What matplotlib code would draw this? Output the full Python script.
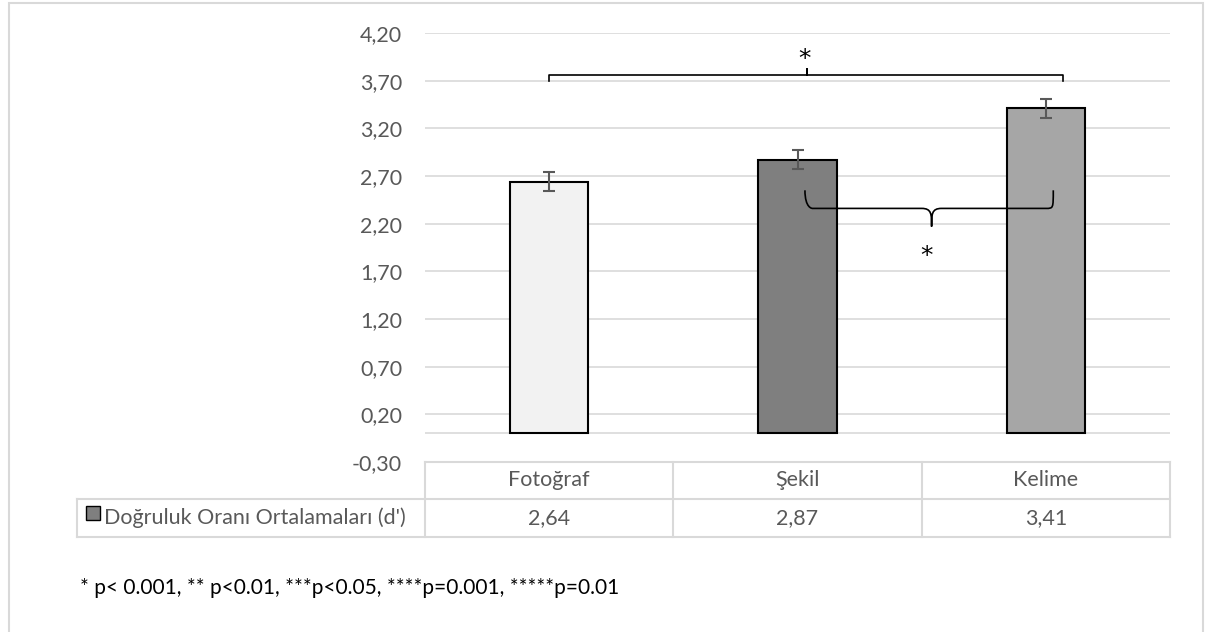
import matplotlib.pyplot as plt
import matplotlib.transforms as mtransforms
from matplotlib.patches import Rectangle
from matplotlib.path import Path
from matplotlib.patches import PathPatch
import numpy as np

categories = ['Fotoğraf', 'Şekil', 'Kelime']
values = [2.64, 2.87, 3.41]
errors = [0.10, 0.10, 0.10]
colors = ['#f2f2f2', '#7f7f7f', '#a6a6a6']
series_name = "Doğruluk Oranı Ortalamaları (d')"
yticks = [-0.30, 0.20, 0.70, 1.20, 1.70, 2.20, 2.70, 3.20, 3.70, 4.20]
footnote = '* p< 0.001, ** p<0.01, ***p<0.05, ****p=0.001, *****p=0.01'

plt.rcParams['font.family'] = ['Lato', 'DejaVu Sans']

W, H = 1208, 632
fig = plt.figure(figsize=(W / 100, H / 100), dpi=100)

def fx(px):
    return px / W

def fy(py):
    return 1 - py / H

FS = 15.5
TXT = '#595959'

# outer frame
fig.patches.append(Rectangle((fx(9), fy(640)), fx(1203) - fx(9), fy(3) - fy(640),
                             transform=fig.transFigure, fill=False,
                             edgecolor='#d9d9d9', lw=1.5))

ax = fig.add_axes([fx(425), fy(462), fx(1170) - fx(425), fy(33) - fy(462)])
ax.set_xlim(-0.5, 2.5)
ax.set_ylim(-0.30, 4.20)

x = np.arange(len(categories))
ax.bar(x, values, width=0.315, color=colors, edgecolor='black', lw=1.5, zorder=3)
ax.errorbar(x, values, yerr=errors, fmt='none', ecolor='#595959', elinewidth=1.5,
            capsize=4.5, capthick=1.5, zorder=4)

ax.set_yticks(yticks)
ax.set_yticklabels([f'{v:.2f}'.replace('.', ',') for v in yticks],
                   fontsize=FS, color=TXT)
ax.tick_params(axis='y', length=0, pad=16.5)
ax.set_xticks([])
for s in ax.spines.values():
    s.set_visible(False)
for v in yticks[1:]:
    ax.axhline(v, color='#d9d9d9', lw=1.2, zorder=1)
ax.axhline(0, color='#d9d9d9', lw=1.2, zorder=2)

# significance brackets
ax.plot([0, 0, 1.04, 1.04, 1.04, 2.07, 2.07],
        [3.70, 3.76, 3.76, 3.82, 3.76, 3.76, 3.70],
        color='black', lw=1.2, clip_on=False, zorder=5)
ax.text(1.03, 3.93, '*', ha='center', va='center', fontsize=18,
        family='DejaVu Sans')

verts = [(1.03, 2.55), (1.03, 2.36), (1.06, 2.36), (1.06, 2.36),
         (1.50, 2.36),
         (1.54, 2.36), (1.54, 2.30), (1.54, 2.17),
         (1.54, 2.30), (1.54, 2.36), (1.58, 2.36),
         (2.00, 2.36),
         (2.03, 2.36), (2.03, 2.36), (2.03, 2.55)]
codes = [Path.MOVETO, Path.CURVE4, Path.CURVE4, Path.CURVE4,
         Path.LINETO,
         Path.CURVE4, Path.CURVE4, Path.CURVE4,
         Path.CURVE4, Path.CURVE4, Path.CURVE4,
         Path.LINETO,
         Path.CURVE4, Path.CURVE4, Path.CURVE4]
ax.add_patch(PathPatch(Path(verts, codes), fill=False, edgecolor='black',
                       lw=1.2, zorder=5))
ax.text(1.52, 1.86, '*', ha='center', va='center', fontsize=18,
        family='DejaVu Sans')

# data table below the axis
tr = mtransforms.blended_transform_factory(ax.transData, fig.transFigure)
grid_c = '#d9d9d9'
row_top, row_mid, row_bot = fy(462), fy(499), fy(537)
fig.add_artist(plt.Line2D([-0.5, 2.5], [row_top, row_top], transform=tr, color=grid_c, lw=1.5))
fig.add_artist(plt.Line2D([fx(77), fx(1170)], [row_mid, row_mid], transform=fig.transFigure, color=grid_c, lw=1.5))
fig.add_artist(plt.Line2D([fx(77), fx(1170)], [row_bot, row_bot], transform=fig.transFigure, color=grid_c, lw=1.5))
fig.add_artist(plt.Line2D([fx(77), fx(77)], [row_mid, row_bot], transform=fig.transFigure, color=grid_c, lw=1.5))
for b in [-0.5, 0.5, 1.5, 2.5]:
    fig.add_artist(plt.Line2D([b, b], [row_top, row_bot], transform=tr, color=grid_c, lw=1.5))
for i, (c, v) in enumerate(zip(categories, values)):
    fig.text(i, (row_top + row_mid) / 2, c, transform=tr, ha='center', va='center',
             fontsize=FS, color=TXT)
    fig.text(i, (row_mid + row_bot) / 2, f'{v:.2f}'.replace('.', ','), transform=tr,
             ha='center', va='center', fontsize=FS, color=TXT)
fig.patches.append(Rectangle((fx(86), fy(520)), fx(100) - fx(86), fy(506) - fy(520),
                             transform=fig.transFigure, facecolor=colors[1],
                             edgecolor='black', lw=1))
fig.text(fx(104), (row_mid + row_bot) / 2, series_name, ha='left', va='center',
         fontsize=FS, color=TXT)

fig.text(fx(80), fy(594), footnote, ha='left', va='baseline', fontsize=15, color='black')

fig.savefig('out.png', dpi=100)
